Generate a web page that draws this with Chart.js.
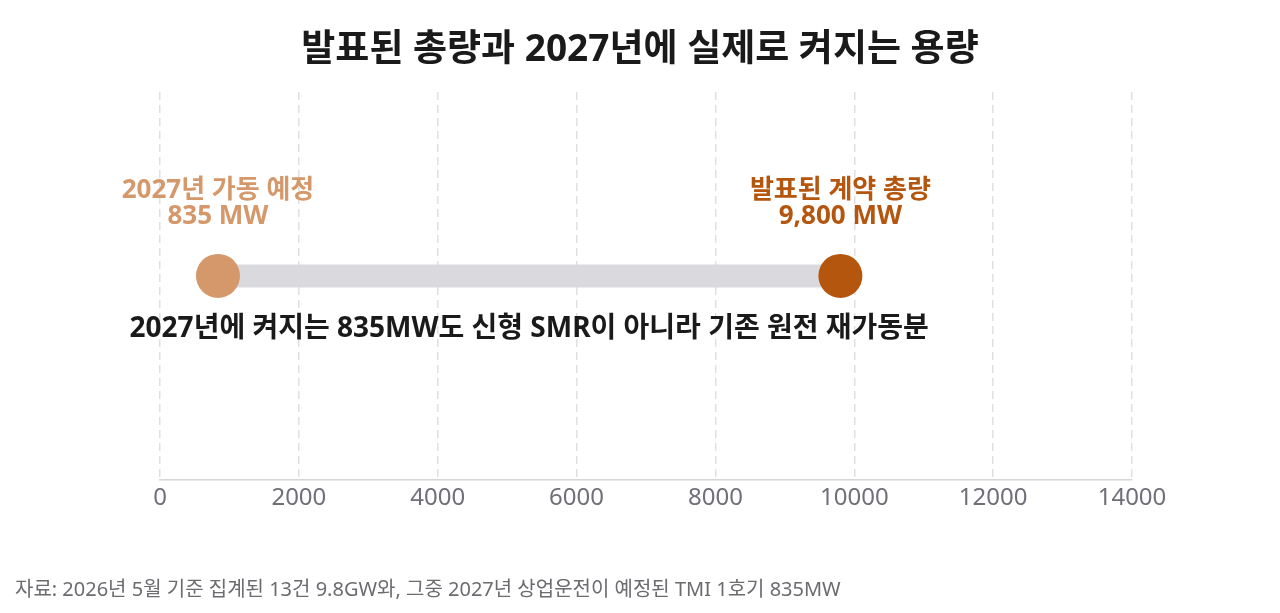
<!DOCTYPE html>
<html lang="ko">
<head>
<meta charset="utf-8">
<script src="https://cdn.jsdelivr.net/npm/chart.js@4"></script>
<style>
  html, body { margin: 0; padding: 0; background: #fff; }
  #wrap { position: relative; width: 1280px; height: 613px; }
  #title {
    position: absolute; left: 0; top: 18px; width: 1280px; text-align: center;
    font: bold 37px "Noto Sans", "Noto Sans CJK KR", sans-serif; color: #1a1a1a;
  }
  #note {
    position: absolute; left: 15px; top: 573px;
    font: 20px "Noto Sans", "Noto Sans CJK KR", sans-serif; color: #6b6b70;
  }
</style>
</head>
<body>
<div id="wrap">
  <canvas id="myChart" width="1280" height="613"></canvas>
  <div id="title">발표된 총량과 2027년에 실제로 켜지는 용량</div>
  <div id="note">자료: 2026년 5월 기준 집계된 13건 9.8GW와, 그중 2027년 상업운전이 예정된 TMI 1호기 835MW</div>
</div>
<script>
const KR = '"Noto Sans", "Noto Sans CJK KR", sans-serif';

const pointValues = [835, 9800];
const pointNames = ['2027년 가동 예정', '발표된 계약 총량'];
const pointLabels = ['835 MW', '9,800 MW'];
const pointColors = ['#d4986b', '#b5560f'];
const centerNote = '2027년에 켜지는 835MW도 신형 SMR이 아니라 기존 원전 재가동분';
const xTicks = [0, 2000, 4000, 6000, 8000, 10000, 12000, 14000];

const ctx = document.querySelector('#myChart').getContext('2d');

// labels above each dot and the note under the bar
const dotLabels = {
  id: 'dotLabels',
  afterDatasetsDraw(chart) {
    const c = chart.ctx;
    const pts = chart.getDatasetMeta(1).data;
    c.save();
    c.textAlign = 'center';
    c.textBaseline = 'middle';
    c.font = 'bold 26px ' + KR;
    pts.forEach((p, i) => {
      c.fillStyle = pointColors[i];
      c.fillText(pointNames[i], p.x, p.y - 85);
      c.fillText(pointLabels[i], p.x, p.y - 59);
    });
    c.fillStyle = '#1a1a1a';
    c.font = 'bold 28px ' + KR;
    c.fillText(centerNote, (pts[0].x + pts[1].x) / 2, pts[0].y + 53);
    c.restore();
  },
};

const weatherChart = new Chart(ctx, {
  type: 'line',
  data: {
    datasets: [
      {
        data: pointValues.map(v => ({ x: v, y: 0 })),
        borderColor: '#d9d9de',
        borderWidth: 23,
        pointRadius: 0,
        fill: false,
        order: 2,
      },
      {
        data: pointValues.map(v => ({ x: v, y: 0 })),
        showLine: false,
        pointRadius: 22,
        pointHoverRadius: 22,
        pointBackgroundColor: pointColors,
        pointBorderWidth: 0,
        order: 1,
      },
    ],
  },
  options: {
    responsive: false,
    animation: false,
    layout: { padding: { left: 160, right: 148, top: 92, bottom: 96 } },
    plugins: {
      legend: { display: false },
      tooltip: { enabled: false },
    },
    scales: {
      x: {
        type: 'linear',
        min: 0,
        max: 14000,
        afterBuildTicks: axis => { axis.ticks = xTicks.map(v => ({ value: v })); },
        grid: { color: '#e0e0e3', lineWidth: 1.5, drawTicks: false },
        border: { display: true, color: '#d6d6da', width: 1.5, dash: [8, 5] },
        ticks: {
          color: '#6f6f78',
          padding: 4,
          font: { family: KR, size: 24 },
          callback: v => String(v),
        },
      },
      y: {
        type: 'linear',
        min: -1,
        max: 0.9,
        display: false,
      },
    },
  },
  plugins: [dotLabels],
});
</script>
</body>
</html>
